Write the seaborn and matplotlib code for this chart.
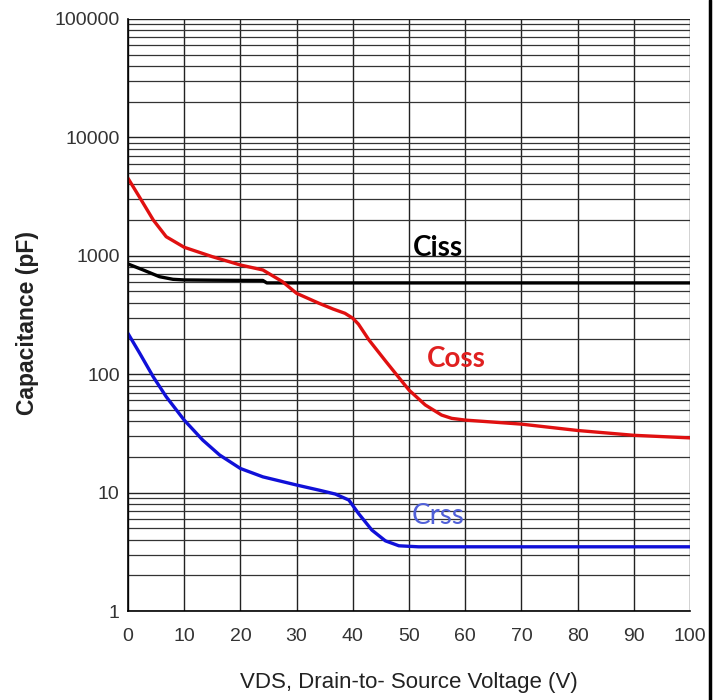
import numpy as np
import pandas as pd
import matplotlib
matplotlib.use('Agg')
import matplotlib.pyplot as plt
import seaborn as sns
from matplotlib.lines import Line2D
from matplotlib.ticker import LogLocator, FixedLocator, NullFormatter

# values (VDS in V, capacitance in pF)
ciss_v = [0, 2.7, 5.6, 8, 10, 15, 20, 24, 24.7, 30, 40, 50, 60, 70, 80, 90, 100]
ciss_c = [853, 759, 666, 633, 625, 622, 620, 619, 590, 590, 590, 590, 590, 590, 590, 590, 590]

coss_v = [0, 2, 4.5, 6.8, 10, 15, 20, 24, 27.5, 30, 34, 36.5, 38.6, 40, 41, 42.9, 45.9, 48.8, 50,
          52.9, 55.8, 57.6, 60, 70, 80, 90, 100]
coss_c = [4515, 3157, 2005, 1449, 1180, 983, 836, 759, 604, 482, 397, 355, 327, 297, 265, 194, 128, 86.4, 73.5,
          55, 45.2, 42.4, 41, 37.9, 33.5, 30.5, 29]

crss_v = [0, 2.1, 4.5, 6.8, 10, 13.3, 16.3, 20, 24, 30, 34, 36.9, 39.3, 41, 43.4, 45.8, 48.2,
          51.7, 60, 70, 80, 90, 100]
crss_c = [221, 150, 95, 64.6, 41, 27.8, 20.8, 16.0, 13.6, 11.6, 10.5, 9.73, 8.66, 6.69, 4.83, 3.92, 3.56,
          3.49, 3.49, 3.49, 3.49, 3.49, 3.49]

x_ticks = [0, 10, 20, 30, 40, 50, 60, 70, 80, 90, 100]
y_ticks = [1, 10, 100, 1000, 10000, 100000]

sns.set_style('white')
plt.rcParams['font.family'] = ['Liberation Sans', 'DejaVu Sans']

fig = plt.figure(figsize=(7.21, 7.0), dpi=100)
ax = fig.add_axes([0.1775, 0.127, 0.7795, 0.846])

ax.set_yscale('log')
ax.set_xlim(0, 100)
ax.set_ylim(1, 100000)

ax.xaxis.set_major_locator(FixedLocator(x_ticks))
ax.yaxis.set_major_locator(FixedLocator(y_ticks))
ax.yaxis.set_minor_locator(LogLocator(base=10, subs=np.arange(2, 10)))
ax.yaxis.set_minor_formatter(NullFormatter())
ax.set_yticklabels([str(t) for t in y_ticks])
ax.grid(True, which='major', axis='both', color='#222222', lw=1.0)
ax.grid(True, which='minor', axis='y', color='#333333', lw=0.9)
ax.set_axisbelow(True)

ciss = pd.DataFrame({'V': ciss_v, 'C': ciss_c})
coss = pd.DataFrame({'V': coss_v, 'C': coss_c})
crss = pd.DataFrame({'V': crss_v, 'C': crss_c})
sns.lineplot(data=ciss, x='V', y='C', ax=ax, color='black', lw=2.4)
sns.lineplot(data=coss, x='V', y='C', ax=ax, color='#e01010', lw=2.4)
sns.lineplot(data=crss, x='V', y='C', ax=ax, color='#1010d8', lw=2.4)

ax.text(50.7, 1164, 'Ciss', color='black', fontsize=20, fontweight='bold', family=['Lato', 'DejaVu Sans'], ha='left', va='center')
ax.text(53.2, 134, 'Coss', color='#e02020', fontsize=20, fontweight='bold', family=['Lato', 'DejaVu Sans'], ha='left', va='center')
ax.text(50.5, 6.3, 'Crss', color='#5060d8', fontsize=20, family=['Lato', 'DejaVu Sans'], ha='left', va='center')

for s in ['top', 'right']:
    ax.spines[s].set_visible(False)
for s in ['left', 'bottom']:
    ax.spines[s].set_color('black')
    ax.spines[s].set_linewidth(1.2)

ax.tick_params(axis='both', which='both', length=0, labelsize=14, colors='#333333')
ax.tick_params(axis='x', pad=12)
ax.tick_params(axis='y', pad=6)
ax.set_xlabel('VDS, Drain-to- Source Voltage (V)', fontsize=16, color='#222222', va='center')
ax.set_ylabel('Capacitance (pF)', fontsize=16.5, fontweight='bold', color='#222222', va='center')
ax.xaxis.set_label_coords(0.5, -0.12)
ax.yaxis.set_label_coords(-0.178, 0.486)

# black edge line on the right of the image
fig.add_artist(Line2D([0.985, 0.985], [0, 1], transform=fig.transFigure, color='black', lw=2.5))

plt.savefig('out.png', dpi=100)
